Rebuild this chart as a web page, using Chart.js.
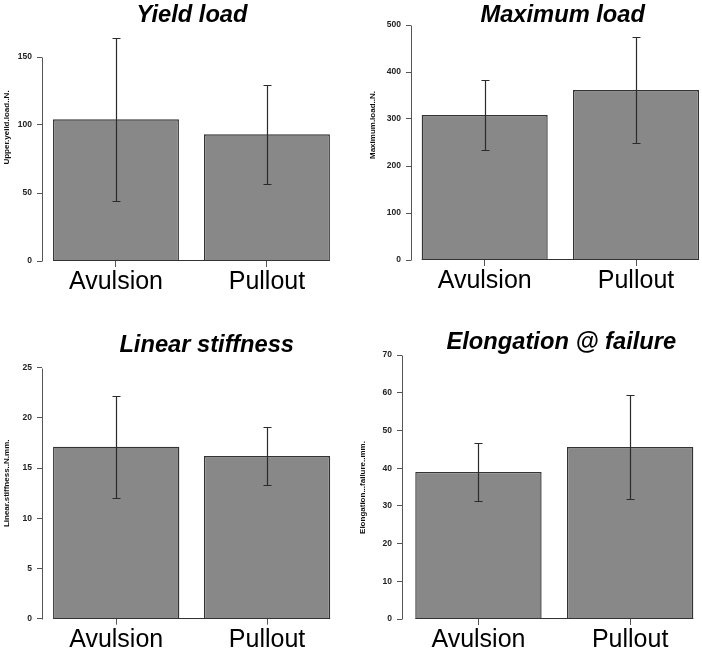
<!DOCTYPE html>
<html><head><meta charset="utf-8">
<script src="https://cdn.jsdelivr.net/npm/chart.js@4.4.1/dist/chart.umd.min.js"></script>
<style>
html,body{margin:0;padding:0;background:#fff;overflow:hidden;width:702px;height:650px;}
#wrap{position:relative;width:702px;height:650px;overflow:hidden;background:#fff;}
canvas{position:absolute;}
</style></head><body>
<div id="wrap">
<canvas id="c1" width="351" height="325" style="left:0;top:0"></canvas>
<canvas id="c2" width="370" height="325" style="left:351px;top:0"></canvas>
<canvas id="c3" width="380" height="325" style="left:0;top:325px"></canvas>
<canvas id="c4" width="375" height="325" style="left:351px;top:325px"></canvas>
</div>
<script>
// ---- data ----
const categories = ['Avulsion', 'Pullout'];

const yieldLoadMean = [104.2, 93.2];
const yieldLoadSD = [60.0, 36.5];
const yieldLoadTicks = [0, 50, 100, 150];

const maxLoadMean = [308.5, 361.7];
const maxLoadSD = [74.5, 112.7];
const maxLoadTicks = [0, 100, 200, 300, 400, 500];

const stiffnessMean = [17.13, 16.2];
const stiffnessSD = [5.1, 2.86];
const stiffnessTicks = [0, 5, 10, 15, 20, 25];

const elongationMean = [39.0, 45.6];
const elongationSD = [7.8, 13.75];
const elongationTicks = [0, 10, 20, 30, 40, 50, 60, 70];

const panelTitles = ['Yield load', 'Maximum load', 'Linear stiffness', 'Elongation @ failure'];
const yAxisTitles = ['Upper.yeild.load..N.', 'Maximum.load..N.', 'Linear.stiffness..N.mm.', 'Elongation...failure..mm.'];

// ---- layout of each panel ----
const FONT = '"Liberation Sans", Arial, Helvetica, sans-serif';
const panels = [
  {id:'c1', means:yieldLoadMean, sds:yieldLoadSD, ticks:yieldLoadTicks, title:panelTitles[0], yTitle:yAxisTitles[0],
   w:351, h:325, left:42, right:342, xMin:-0.490, xMax:1.497, barPct:0.834, yMax:170, y0:261,
   tPad:{top:1.58,bottom:-0.22}, yTX:6.5, yTY:127.5},
  {id:'c2', means:maxLoadMean, sds:maxLoadSD, ticks:maxLoadTicks, title:panelTitles[1], yTitle:yAxisTitles[1],
   w:370, h:325, left:60, right:363.4, xMin:-0.487, xMax:1.518, barPct:0.833, yMax:510, y0:260,
   tPad:{top:1.58,bottom:-9.72}, yTX:21.8, yTY:125},
  {id:'c3', means:stiffnessMean, sds:stiffnessSD, ticks:stiffnessTicks, title:panelTitles[2], yTitle:yAxisTitles[2],
   w:380, h:325, left:42, right:371.4, xMin:-0.492, xMax:1.692, barPct:0.8375, yMax:26, y0:293.7,
   tPad:{top:5.88,bottom:-1.66}, yTX:6.5, yTY:158.3},
  {id:'c4', means:elongationMean, sds:elongationSD, ticks:elongationTicks, title:panelTitles[3], yTitle:yAxisTitles[3],
   w:375, h:325, left:51, right:369.7, xMin:-0.504, xMax:1.597, barPct:0.833, yMax:72, y0:294,
   tPad:{top:3.58,bottom:-9.46}, yTX:12, yTY:162.5}
];

function makeChart(p) {
  const rPlugin = {
    id: 'rstyle_' + p.id,
    afterDatasetsDraw(chart) {
      const {ctx, chartArea, scales:{x, y}} = chart;
      const meta = chart.getDatasetMeta(0);
      ctx.save();
      // error bars
      ctx.strokeStyle = '#2b2b2b'; ctx.lineWidth = 1.2;
      meta.data.forEach((bar, i) => {
        const m = p.means[i], s = p.sds[i];
        const px = Math.round(bar.x) + 0.5;
        const yt = Math.round(y.getPixelForValue(m + s)) + 0.5;
        const yb = Math.round(y.getPixelForValue(m - s)) + 0.5;
        ctx.beginPath();
        ctx.moveTo(px, yt); ctx.lineTo(px, yb);
        ctx.moveTo(px - 4, yt); ctx.lineTo(px + 4, yt);
        ctx.moveTo(px - 4, yb); ctx.lineTo(px + 4, yb);
        ctx.stroke();
      });
      // R-style y axis line (from first to last tick)
      ctx.strokeStyle = '#555'; ctx.lineWidth = 1;
      const ax = Math.round(chartArea.left) + 0.5;
      const t = p.ticks;
      ctx.beginPath();
      ctx.moveTo(ax, Math.round(y.getPixelForValue(t[0])) + 0.5);
      ctx.lineTo(ax, Math.round(y.getPixelForValue(t[t.length - 1])) + 0.5);
      ctx.stroke();
      // baseline under the bars
      const first = meta.data[0], last = meta.data[meta.data.length - 1];
      const by = Math.round(y.getPixelForValue(0)) - 0.5;
      ctx.strokeStyle = '#333'; ctx.lineWidth = 1.2;
      ctx.beginPath();
      ctx.moveTo(first.x - first.width / 2, by);
      ctx.lineTo(last.x + last.width / 2, by);
      ctx.stroke();
      // y axis title
      ctx.font = 'bold 8px ' + FONT;
      ctx.fillStyle = '#111'; ctx.textAlign = 'center'; ctx.textBaseline = 'middle';
      ctx.translate(p.yTX, p.yTY); ctx.rotate(-Math.PI / 2);
      ctx.fillText(p.yTitle, 0, 0);
      ctx.restore();
    }
  };

  return new Chart(document.getElementById(p.id), {
    type: 'bar',
    data: {
      datasets: [{
        data: categories.map((c, i) => ({x: i, y: p.means[i]})),
        backgroundColor: '#888888',
        borderColor: '#333333',
        borderWidth: 1.4,
        borderSkipped: 'start',
        barPercentage: p.barPct,
        categoryPercentage: 1
      }]
    },
    options: {
      responsive: false,
      animation: false,
      events: [],
      layout: {padding: {top: 0, left: 0, bottom: 0, right: p.w - p.right}},
      plugins: {
        legend: {display: false},
        tooltip: {enabled: false},
        title: {
          display: true, text: p.title, fullSize: false, color: '#000',
          font: {family: FONT, size: 23.7, weight: 'bold', style: 'italic', lineHeight: 1.2},
          padding: p.tPad
        }
      },
      scales: {
        x: {
          type: 'linear', min: p.xMin, max: p.xMax, offset: false,
          afterBuildTicks: (s) => { s.ticks = categories.map((c, i) => ({value: i})); },
          afterFit: (s) => { s.height = p.h - p.y0; },
          grid: {display: true, drawOnChartArea: false, drawTicks: true, tickLength: 6, color: '#555', offset: false},
          border: {display: false},
          ticks: {
            callback: (v) => categories[v],
            font: {family: FONT, size: 25, lineHeight: 1},
            color: '#000', padding: 3, maxRotation: 0, autoSkip: false
          }
        },
        y: {
          min: 0, max: p.yMax,
          afterBuildTicks: (s) => { s.ticks = p.ticks.map(v => ({value: v})); },
          afterFit: (s) => { s.width = p.left; },
          grid: {display: true, drawOnChartArea: false, drawTicks: true, tickLength: 5, color: '#555'},
          border: {display: false},
          ticks: {font: {family: FONT, size: 8.5, weight: 'bold'}, color: '#222', padding: 5}
        }
      }
    },
    plugins: [rPlugin]
  });
}
panels.forEach(makeChart);
</script>
</body></html>
